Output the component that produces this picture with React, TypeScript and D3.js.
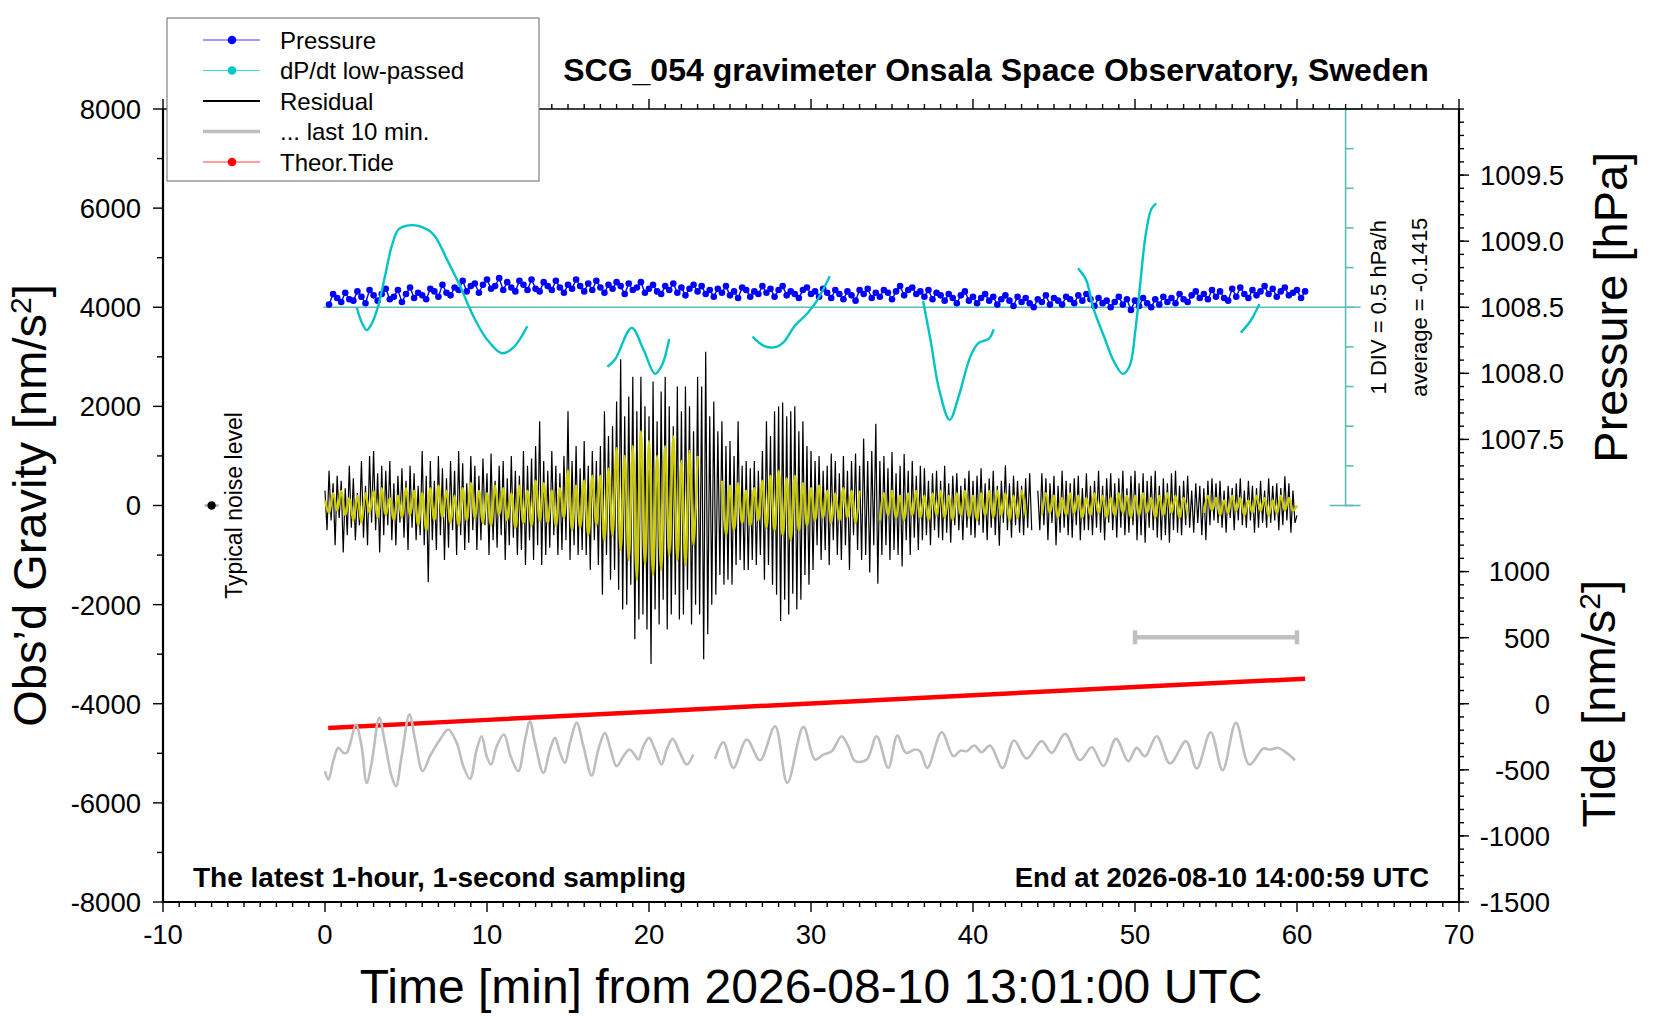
import * as d3 from 'd3'

// plot box of the gravimeter panel (pixels)
const W = 1660
const H = 1020
const box = { left: 163, right: 1459, top: 109, bottom: 902 }

// sampling steps in minutes
const RES_STEP = 0.125
const SMOOTH_STEP = 0.25
const PRES_START = 0.25
const PRES_STEP = 0.25

// residual gravity [nm/s^2], one row per minute
const residual: (number | null)[] = [
  300, -500, 700, -300, 450, -800, 600, -250,
  500, -950, 350, -600, 800, -450, 550, -700,
  250, -400, 900, -650, 400, -800, 1000, -350,
  1100, -500, 650, -950, 800, -600, 700, -400,
  900, -700, 450, -800, 600, -350, 750, -650,
  500, -900, 800, -450, 650, -700, 400, -600,
  1100, -800, 600, -1550, 900, -700, 500, -900,
  1000, -600, 750, -1100, 550, -850, 900, -500,
  700, -1000, 1100, -600, 850, -900, 450, -750,
  1000, -500, 800, -900, 600, -700, 950, -400,
  650, -1000, 1050, -700, 500, -850, 800, -600,
  900, -1100, 550, -800, 1000, -650, 700, -1000,
  600, -900, 1100, -1200, 800, -700, 950, -1100,
  1200, -800, 1700, -1200, 900, -1000, 700, -850,
  1100, -600, 800, -1000, 650, -900, 1000, -700,
  1900, -1100, 900, -800, 1200, -1000, 750, -900,
  1300, -1000, 800, -1300, 1100, -700, 900, -1200,
  1200, -1800, 1900, -1000, 1400, -1500, 1600, -1300,
  2100, -1700, 2950, -2100, 1800, -2000, 2200, -1600,
  2600, -2700, 1900, -2300, 2600, -2200, 2000, -2500,
  1800, -3200, 2500, -2100, 1700, -2400, 2300, -1900,
  2600, -2500, 2000, -2200, 1600, -1800, 2400, -2300,
  1900, -2200, 2400, -1700, 2000, -2400, 1500, -2000,
  2600, -2200, 2400, -3100, 3100, -2600, 1800, -2000,
  2100, -1800, 1500, -1400, 1700, -1600, 1200, -1500,
  1300, -1600, 1000, -1200, 1700, -1100, 800, -1300,
  900, -1300, 750, -1100, 900, -1200, 700, -1000,
  1100, -1500, 1700, -1200, 1400, -1600, 1900, -1800,
  2000, -2330, 2080, -1900, 1800, -2200, 1900, -1780,
  2000, -2100, 1500, -1900, 1700, -1400, 1200, -1600,
  1100, -1300, 900, -800, 1000, -1100, 700, -900,
  800, -1200, 1050, -700, 900, -1000, 650, -1100,
  1000, -800, 700, -1300, 900, -600, 1050, -900,
  800, -1100, 1350, -1000, 900, -1350, 1100, -800,
  1650, -1580, 900, -1000, 1000, -800, 750, -1100,
  1080, -900, 650, -1000, 800, -1230, 1040, -700,
  700, -1000, 900, -650, 600, -900, 800, -700,
  750, -600, 500, -800, 650, -500, 700, -650,
  500, -700, 800, -550, 450, -750, 600, -400,
  650, -500, 400, -700, 550, -450, 700, -600,
  500, -650, 600, -400, 750, -550, 450, -700,
  550, -450, 700, -600, 400, -810, 500, -350,
  810, -500, 450, -650, 600, -400, 500, -550,
  400, -600, 550, -450, 650, -500, null, null,
  300, -500, 650, -400, 550, -700, 450, -350,
  600, -800, 400, -550, 700, -450, 500, -600,
  450, -650, 550, -400, 600, -700, 350, -500,
  650, -500, 400, -600, 500, -450, 700, -550,
  400, -700, 550, -350, 650, -500, 450, -650,
  550, -450, 700, -600, 350, -550, 600, -400,
  700, -700, 450, -600, 650, -750, 500, -450,
  600, -500, 700, -650, 400, -700, 550, -600,
  450, -750, 650, -500, 700, -550, 400, -600,
  500, -400, 600, -450, 300, -550, 450, -350,
  400, -600, 350, -700, 500, -400, 550, -300,
  450, -350, 500, -450, 300, -550, 400, -250,
  350, -500, 450, -300, 550, -400, 300, -450,
  500, -300, 400, -550, 350, -450, 500, -350,
  300, -450, 550, -350, 400, -300, 450, -500,
  350, -400, 590, -300, 450, -550, 300, -350,
  -200,
]

// low-passed residual (yellow), 4 values per minute
const smoothed: (number | null)[] = [
  100, -150, 250, -100,
  300, -200, 150, -300,
  200, -350, 250, -150,
  300, -250, 350, -200,
  150, -300, 200, -250,
  350, -200, 300, -400,
  250, -500, 350, -300,
  400, -250, 300, -350,
  200, -400, 350, -300,
  450, -250, 300, -350,
  250, -400, 400, -200,
  350, -300, 250, -450,
  400, -350, 300, -400,
  500, -300, 450, -350,
  300, -400, 350, -250,
  700, -500, 400, -450,
  500, -600, 600, -400,
  600, -700, 750, -600,
  1160, -900, 1000, -1100,
  1200, -1500, 1500, -1200,
  1300, -1400, 1000, -1300,
  1200, -1000, 1400, -1100,
  900, -1200, 1100, -800,
  1000, null, null, null,
  null, null, 500, -600,
  400, -500, 450, -350,
  300, -400, 350, -300,
  500, -450, 600, -500,
  700, -600, 550, -700,
  600, -500, 450, -400,
  350, -300, 400, -250,
  300, -350, 250, -300,
  350, -250, 300, -350,
  300, null, null, null,
  null, -300, 250, -200,
  300, -250, 200, -300,
  250, -200, 300, -250,
  200, -300, 250, -200,
  300, -250, 200, -300,
  250, -200, 300, -250,
  200, -300, 250, -200,
  300, -250, 300, -200,
  250, -300, 200, -250,
  300, -200, null, null,
  null, -200, 250, -150,
  200, -250, 150, -200,
  250, -150, 200, -250,
  150, -200, 250, -150,
  200, -250, 150, -200,
  250, -150, 200, -250,
  200, -200, 250, -150,
  150, -250, 200, -200,
  250, -150, 200, -250,
  150, -200, null, null,
  null, -150, 200, -100,
  150, -200, 100, -150,
  200, -100, 150, -200,
  100, -150, 200, -100,
  150, -200, 100, -150,
  200, -100, 150, -100,
  0,
]

// air pressure [hPa], 4 values per minute from 0.25 min
const pressure: number[] = [
  1008.52, 1008.60, 1008.57, 1008.54,
  1008.61, 1008.56, 1008.55, 1008.62,
  1008.58, 1008.53, 1008.63, 1008.59,
  1008.55, 1008.60, 1008.64, 1008.56,
  1008.58, 1008.63, 1008.54, 1008.60,
  1008.65, 1008.57, 1008.61, 1008.59,
  1008.56, 1008.64, 1008.62, 1008.58,
  1008.67, 1008.61, 1008.59, 1008.65,
  1008.63, 1008.70, 1008.62, 1008.66,
  1008.68, 1008.61, 1008.67, 1008.71,
  1008.64, 1008.66, 1008.72, 1008.63,
  1008.69, 1008.65, 1008.62, 1008.70,
  1008.67, 1008.63, 1008.71, 1008.64,
  1008.62, 1008.69, 1008.66, 1008.63,
  1008.70, 1008.65, 1008.61, 1008.67,
  1008.64, 1008.71, 1008.66, 1008.62,
  1008.68, 1008.63, 1008.70, 1008.65,
  1008.61, 1008.67, 1008.64, 1008.69,
  1008.66, 1008.60, 1008.68, 1008.63,
  1008.65, 1008.69, 1008.61, 1008.64,
  1008.67, 1008.62, 1008.60, 1008.66,
  1008.63, 1008.68, 1008.61, 1008.65,
  1008.59, 1008.64, 1008.67, 1008.62,
  1008.66, 1008.60, 1008.63, 1008.58,
  1008.64, 1008.61, 1008.66, 1008.59,
  1008.62, 1008.57, 1008.65, 1008.63,
  1008.58, 1008.62, 1008.60, 1008.66,
  1008.61, 1008.64, 1008.58, 1008.63,
  1008.66, 1008.59, 1008.62, 1008.60,
  1008.57, 1008.63, 1008.65, 1008.60,
  1008.62, 1008.58, 1008.64, 1008.61,
  1008.57, 1008.63, 1008.60, 1008.56,
  1008.62, 1008.59, 1008.55, 1008.63,
  1008.60, 1008.64, 1008.57, 1008.61,
  1008.58, 1008.63, 1008.61, 1008.56,
  1008.62, 1008.66, 1008.59, 1008.63,
  1008.65, 1008.60, 1008.62, 1008.58,
  1008.63, 1008.56, 1008.61, 1008.59,
  1008.55, 1008.60, 1008.57, 1008.53,
  1008.59, 1008.62, 1008.55, 1008.58,
  1008.53, 1008.57, 1008.60, 1008.55,
  1008.58, 1008.52, 1008.56, 1008.59,
  1008.55, 1008.51, 1008.58, 1008.54,
  1008.57, 1008.53, 1008.50, 1008.56,
  1008.54, 1008.59, 1008.52, 1008.57,
  1008.55, 1008.52, 1008.58, 1008.56,
  1008.53, 1008.59, 1008.55, 1008.60,
  1008.56, 1008.51, 1008.57, 1008.53,
  1008.55, 1008.50, 1008.54, 1008.58,
  1008.52, 1008.56, 1008.48, 1008.55,
  1008.51, 1008.57, 1008.53, 1008.50,
  1008.56, 1008.52, 1008.58, 1008.54,
  1008.57, 1008.53, 1008.60, 1008.56,
  1008.54, 1008.59, 1008.62, 1008.57,
  1008.60, 1008.56, 1008.63, 1008.58,
  1008.62, 1008.57, 1008.55, 1008.64,
  1008.58, 1008.65, 1008.60, 1008.57,
  1008.63, 1008.59, 1008.62, 1008.66,
  1008.60, 1008.64, 1008.58, 1008.62,
  1008.65, 1008.59, 1008.61, 1008.63,
  1008.57, 1008.62,
]

// dP/dt low-passed [hPa/h], pieces of [minute, value]
const dpdtSegments: [number, number][][] = [
  [[1.96, 0.0], [2.26, -0.19], [2.57, -0.29], [2.88, -0.21], [3.29, 0.02], [3.7, 0.39], [4.12, 0.77],
   [4.53, 0.98], [5.04, 1.03], [5.86, 1.02], [6.69, 0.92], [7.51, 0.61], [8.33, 0.27], [9.15, -0.11],
   [9.98, -0.4], [10.91, -0.58], [11.62, -0.51], [12.49, -0.24]],
  [[17.43, -0.75], [17.9, -0.66], [18.93, -0.26], [19.65, -0.53], [20.37, -0.84], [20.78, -0.74], [21.25, -0.4]],
  [[26.39, -0.37], [27.13, -0.49], [27.86, -0.5], [28.36, -0.43], [28.98, -0.24], [29.81, -0.07], [30.42, 0.1], [31.16, 0.39]],
  [[36.92, 0.08], [37.41, -0.45], [37.9, -1.03], [38.56, -1.42], [39.12, -1.12], [39.86, -0.61], [40.35, -0.45],
   [40.97, -0.4], [41.28, -0.28]],
  [[46.48, 0.49], [46.97, 0.35], [47.46, -0.03], [48.07, -0.36], [48.69, -0.68], [49.25, -0.84], [49.67, -0.74],
   [50.03, -0.28], [50.33, 0.31], [50.65, 0.9], [51.01, 1.24], [51.31, 1.31]],
  [[56.53, -0.32], [57.14, -0.17], [57.68, 0.04]],
]

// "... last 10 min." trace, [minute, nm/s^2]
const lastTenA: [number, number][] = [
  [0, -5361], [0.21, -5529], [0.51, -5159], [0.82, -4890], [1.13, -4991], [1.34, -4991], [1.54, -4823],
  [1.91, -4419], [2.26, -4857], [2.57, -5597], [2.88, -5193], [3.35, -4285], [3.7, -4789], [4.11, -5462],
  [4.38, -5664], [4.73, -5059], [5.21, -4218], [5.56, -4722], [6.03, -5361], [6.48, -5059], [7.1, -4722],
  [7.61, -4520], [8.13, -4789], [8.54, -5260], [8.95, -5516], [9.36, -4924], [9.67, -4655], [9.98, -5059],
  [10.25, -5227], [10.6, -4857], [11.05, -4621], [11.46, -5059], [11.93, -5361], [12.35, -4722],
  [12.65, -4352], [12.96, -4789], [13.48, -5395], [13.89, -4924], [14.2, -4689], [14.51, -4991],
  [14.81, -5193], [15.12, -4789], [15.54, -4386], [15.95, -4857], [16.46, -5449], [16.87, -4924],
  [17.28, -4588], [17.63, -4924], [18.0, -5260], [18.42, -5059], [18.79, -4924], [19.03, -4991],
  [19.34, -5126], [19.65, -4857], [20.0, -4689], [20.37, -4924], [20.78, -5227], [21.09, -4924],
  [21.46, -4709], [21.91, -4991], [22.33, -5227], [22.74, -5025],
]
const lastTenB: [number, number][] = [
  [24.07, -5112], [24.59, -4776], [25.21, -5294], [26.03, -4722], [26.85, -5139], [27.78, -4453],
  [28.54, -5597], [29.53, -4466], [30.25, -5126], [30.76, -5025], [31.28, -4958], [31.89, -4655],
  [32.3, -4857], [32.72, -5159], [33.44, -5126], [34.05, -4655], [34.77, -5294], [35.33, -4641],
  [35.86, -4991], [36.42, -4924], [36.73, -4958], [37.18, -5294], [38.07, -4574], [38.79, -5059],
  [39.24, -4944], [39.61, -4958], [40.08, -4843], [40.54, -4978], [41.05, -4843], [41.83, -5294],
  [42.53, -4742], [43.31, -5106], [44.24, -4755], [44.86, -4991], [45.68, -4608], [46.6, -5139],
  [47.33, -4877], [48.05, -5253], [48.83, -4709], [49.59, -5159], [50.1, -4891], [50.62, -5059],
  [51.34, -4655], [52.16, -5206], [53.15, -4755], [53.81, -5307], [54.67, -4574], [55.41, -5341],
  [56.23, -4386], [57.06, -5227], [57.92, -4904], [58.33, -4924], [58.85, -4891], [59.36, -4991],
  [59.88, -5139],
]

// theoretical tide [nm/s^2]
const tideMinutes = [0.2, 10, 20, 30, 40, 50, 60.5]
const tideValues = [-184, -122, -60, 2, 64, 126, 190]

// axis ticks
const timeTicks = [-10, 0, 10, 20, 30, 40, 50, 60, 70]
const gravTicks = [-8000, -6000, -4000, -2000, 0, 2000, 4000, 6000, 8000]
const pressureLabels = [1007.5, 1008.0, 1008.5, 1009.0, 1009.5]
const tideLabels = [-1500, -1000, -500, 0, 500, 1000]

// annotations
const noiseMinute = -7
const scaleBar = { from: 50, to: 60, level: -2660 }
const dpdtScaleMinute = 63
const dpdtDivs = d3.range(0, 11)

const legendItems = [
  { label: 'Pressure', color: '#0000ff', width: 1, dot: true },
  { label: 'dP/dt low-passed', color: '#00c8c8', width: 1, dot: true },
  { label: 'Residual', color: '#000000', width: 2.2, dot: false },
  { label: '... last 10 min.', color: '#bebebe', width: 3.5, dot: false },
  { label: 'Theor.Tide', color: '#ff0000', width: 1, dot: true },
]

const FONT = "'Liberation Sans', Arial, Helvetica, sans-serif"

export default function App() {
  const x = d3.scaleLinear().domain([-10, 70]).range([box.left, box.right])
  const yG = d3.scaleLinear().domain([-8000, 8000]).range([box.bottom, box.top])
  const yP = d3.scaleLinear().domain([1004, 1010]).range([box.bottom, box.top])
  const yT = d3.scaleLinear().domain([-1500, 4500]).range([box.bottom, box.top])
  // 1 DIV = 0.5 hPa/h = 800 nm/s^2 of the gravity axis, zero at 4000
  const yD = d3.scaleLinear().domain([-2.5, 2.5]).range([yG(0), yG(8000)])

  const resPts: [number, number | null][] = residual.map((v, i) => [i * RES_STEP, v])
  const smPts: [number, number | null][] = smoothed.map((v, i) => [i * SMOOTH_STEP, v])
  const presPts: [number, number][] = pressure.map((v, i) => [PRES_START + i * PRES_STEP, v])
  const tidePts: [number, number][] = tideMinutes.map((m, i) => [m, tideValues[i]])

  const gapLine = d3
    .line<[number, number | null]>()
    .defined(d => d[1] !== null)
    .x(d => x(d[0]))
    .y(d => yG(d[1] as number))
  const smoothLine = d3
    .line<[number, number | null]>()
    .defined(d => d[1] !== null)
    .x(d => x(d[0]))
    .y(d => yG(d[1] as number))
    .curve(d3.curveCatmullRom.alpha(0.5))
  const grayLine = d3
    .line<[number, number]>()
    .x(d => x(d[0]))
    .y(d => yG(d[1]))
    .curve(d3.curveCatmullRom.alpha(0.5))
  const dpLine = d3
    .line<[number, number]>()
    .x(d => x(d[0]))
    .y(d => yD(d[1]))
    .curve(d3.curveCatmullRom.alpha(0.5))
  const presLine = d3
    .line<[number, number]>()
    .x(d => x(d[0]))
    .y(d => yP(d[1]))
  const tideLine = d3
    .line<[number, number]>()
    .x(d => x(d[0]))
    .y(d => yT(d[1]))

  const minorTime = d3.range(-10, 71, 1)
  const minorGrav = d3.range(-8000, 8001, 1000)
  const rightTicks = d3.range(-1500, 4501, 100)
  const sx = x(dpdtScaleMinute)

  return (
    <svg
      width={W}
      height={H}
      style={{ position: 'absolute', left: 0, top: 0, background: '#fff' }}
      fontFamily={FONT}
    >
      {/* dP/dt zero line and DIV scale */}
      <g stroke="#5cbcbc" strokeWidth={1.6}>
        <line x1={x(-0.1)} x2={sx + 15} y1={yD(0)} y2={yD(0)} />
        <line x1={sx} x2={sx} y1={yD(-2.5)} y2={yD(2.5)} />
        <line x1={sx - 16} x2={sx + 15} y1={yD(-2.5)} y2={yD(-2.5)} />
        <line x1={sx - 16} x2={sx + 15} y1={yD(2.5)} y2={yD(2.5)} />
        {dpdtDivs.map(k => (
          <line key={k} x1={sx} x2={sx + 8} y1={yD(-2.5 + k * 0.5)} y2={yD(-2.5 + k * 0.5)} />
        ))}
      </g>

      {/* pressure */}
      <path d={presLine(presPts) ?? ''} fill="none" stroke="#0000ff" strokeWidth={1.4} />
      <g fill="#0000ff">
        {presPts.map((d, i) => (
          <circle key={i} cx={x(d[0])} cy={yP(d[1])} r={3.3} />
        ))}
      </g>

      {/* dP/dt low-passed */}
      {dpdtSegments.map((seg, i) => (
        <path key={i} d={dpLine(seg) ?? ''} fill="none" stroke="#00c4c4" strokeWidth={2.4} />
      ))}

      {/* residual and its smoothed version */}
      <path d={gapLine(resPts) ?? ''} fill="none" stroke="#000" strokeWidth={1.2} />
      <path d={smoothLine(smPts) ?? ''} fill="none" stroke="#cccc00" strokeWidth={2.4} />

      {/* theoretical tide */}
      <path d={tideLine(tidePts) ?? ''} fill="none" stroke="#ff0000" strokeWidth={4.5} />

      {/* last 10 minutes */}
      <path d={grayLine(lastTenA) ?? ''} fill="none" stroke="#bebebe" strokeWidth={2.6} />
      <path d={grayLine(lastTenB) ?? ''} fill="none" stroke="#bebebe" strokeWidth={2.6} />

      {/* 10-minute scale bar */}
      <g stroke="#c0c0c0" strokeWidth={4.5}>
        <line x1={x(scaleBar.from)} x2={x(scaleBar.to)} y1={yG(scaleBar.level)} y2={yG(scaleBar.level)} />
        <line x1={x(scaleBar.from)} x2={x(scaleBar.from)} y1={yG(scaleBar.level) - 7} y2={yG(scaleBar.level) + 7} />
        <line x1={x(scaleBar.to)} x2={x(scaleBar.to)} y1={yG(scaleBar.level) - 7} y2={yG(scaleBar.level) + 7} />
      </g>

      {/* typical noise level */}
      <line x1={x(noiseMinute) - 7} x2={x(noiseMinute) + 7} y1={yG(0)} y2={yG(0)} stroke="#bbb" strokeWidth={3} />
      <circle cx={x(noiseMinute)} cy={yG(0)} r={4.2} fill="#000" />
      <text transform={`translate(242,${yG(0)}) rotate(-90)`} textAnchor="middle" fontSize={23}>
        Typical noise level
      </text>

      {/* DIV annotation */}
      <text transform={`translate(1386,${yD(0)}) rotate(-90)`} textAnchor="middle" fontSize={22}>
        1 DIV = 0.5 hPa/h
      </text>
      <text transform={`translate(1427,${yD(0)}) rotate(-90)`} textAnchor="middle" fontSize={22}>
        average = -0.1415
      </text>

      {/* frame */}
      <g stroke="#000" fill="none">
        <line x1={box.left} x2={box.right} y1={box.top} y2={box.top} strokeWidth={1.5} />
        <line x1={box.left} x2={box.right} y1={box.bottom} y2={box.bottom} strokeWidth={2.2} />
        <line x1={box.left} x2={box.left} y1={box.top} y2={box.bottom} strokeWidth={2.2} />
        <line x1={box.right} x2={box.right} y1={box.top} y2={box.bottom} strokeWidth={2.2} />
      </g>

      {/* time ticks, bottom and top */}
      <g stroke="#000" strokeWidth={1.4}>
        {minorTime.map(m => {
          const len = m % 10 === 0 ? 10 : 5
          return (
            <g key={m}>
              <line x1={x(m)} x2={x(m)} y1={box.bottom} y2={box.bottom + len} />
              <line x1={x(m)} x2={x(m)} y1={box.top} y2={box.top - len} />
            </g>
          )
        })}
        {minorGrav.map(g => (
          <line key={g} x1={box.left} x2={box.left - (g % 2000 === 0 ? 10 : 6)} y1={yG(g)} y2={yG(g)} />
        ))}
        {rightTicks.map(t => (
          <line key={t} x1={box.right} x2={box.right + 5} y1={yT(t)} y2={yT(t)} />
        ))}
        {tideLabels.map(t => (
          <line key={'t' + t} x1={box.right} x2={box.right + 10} y1={yT(t)} y2={yT(t)} />
        ))}
        {pressureLabels.map(p => (
          <line key={'p' + p} x1={box.right} x2={box.right + 10} y1={yP(p)} y2={yP(p)} />
        ))}
      </g>

      {/* tick labels */}
      <g fontSize={27.5} fill="#000">
        {timeTicks.map(m => (
          <text key={m} x={x(m)} y={944} textAnchor="middle">
            {m}
          </text>
        ))}
        {gravTicks.map(g => (
          <text key={g} x={141} y={yG(g)} dy="0.36em" textAnchor="end">
            {g}
          </text>
        ))}
        {pressureLabels.map(p => (
          <text key={p} x={1480} y={yP(p)} dy="0.36em" textAnchor="start">
            {p.toFixed(1)}
          </text>
        ))}
        {tideLabels.map(t => (
          <text key={t} x={1550} y={yT(t)} dy="0.36em" textAnchor="end">
            {t}
          </text>
        ))}
      </g>

      {/* axis titles */}
      <text transform={`translate(46,${(box.top + box.bottom) / 2}) rotate(-90)`} textAnchor="middle" fontSize={47}>
        Obs’d Gravity [nm/s
        <tspan fontSize={30} dy={-15}>2</tspan>
        <tspan dy={15}>]</tspan>
      </text>
      <text x={(box.left + box.right) / 2} y={1003} textAnchor="middle" fontSize={48}>
        Time [min] from 2026-08-10 13:01:00 UTC
      </text>
      <text transform={`translate(1627,${yP(1008.5)}) rotate(-90)`} textAnchor="middle" fontSize={47}>
        Pressure [hPa]
      </text>
      <text transform={`translate(1615,${yT(0)}) rotate(-90)`} textAnchor="middle" fontSize={47}>
        Tide [nm/s
        <tspan fontSize={30} dy={-15}>2</tspan>
        <tspan dy={15}>]</tspan>
      </text>

      {/* title and notes */}
      <text x={996} y={81} textAnchor="middle" fontSize={32} fontWeight="bold">
        SCG_054 gravimeter Onsala Space Observatory, Sweden
      </text>
      <text x={193} y={887} fontSize={28} fontWeight="bold">
        The latest 1-hour, 1-second sampling
      </text>
      <text x={1429} y={887} textAnchor="end" fontSize={27.5} fontWeight="bold">
        End at 2026-08-10 14:00:59 UTC
      </text>

      {/* legend */}
      <g>
        <rect x={167} y={18} width={372} height={163} fill="#fff" stroke="#808080" strokeWidth={1.2} />
        {legendItems.map((it, i) => {
          const ly = 40 + i * 30.5
          return (
            <g key={it.label}>
              <line x1={203} x2={260} y1={ly} y2={ly} stroke={it.color} strokeWidth={it.width} opacity={it.dot ? 0.75 : 1} />
              {it.dot && <circle cx={232} cy={ly} r={4.3} fill={it.color} />}
              <text x={280} y={ly} dy="0.36em" fontSize={24}>
                {it.label}
              </text>
            </g>
          )
        })}
      </g>
    </svg>
  )
}
